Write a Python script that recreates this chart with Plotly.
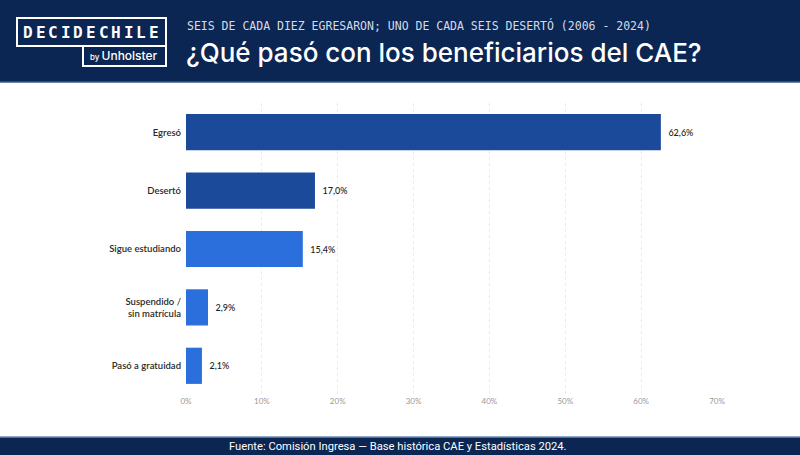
import plotly.graph_objects as go

categories = ["Egresó", "Desertó", "Sigue estudiando", "Suspendido /<br>sin matrícula", "Pasó a gratuidad"]
values = [62.6, 17.0, 15.4, 2.9, 2.1]
bar_colors = ["#1b4a9b", "#1b4a9b", "#2a6fdc", "#2a6fdc", "#2a6fdc"]
tick_vals = [0, 10, 20, 30, 40, 50, 60, 70]
tick_text = ["0%", "10%", "20%", "30%", "40%", "50%", "60%", "70%"]

labels = ["\u2002" + f"{v:.1f}".replace(".", ",") + "%" for v in values]

W, H = 800, 455
NAVY = "#0b2653"

fig = go.Figure()
fig.add_trace(go.Bar(
    x=values, y=categories, orientation="h",
    marker=dict(color=bar_colors, line=dict(width=0)),
    text=labels, textposition="outside", cliponaxis=False,
    textfont=dict(family="Lato", size=9, color="#222222", weight=500),
    width=0.62, hoverinfo="skip",
))

fig.update_layout(
    width=W, height=H,
    margin=dict(l=186, r=83, t=103, b=60),
    paper_bgcolor="white", plot_bgcolor="white",
    showlegend=False,
    xaxis=dict(range=[0, 70], tickvals=tick_vals, ticktext=tick_text,
               showgrid=True, gridcolor="#ebebeb", griddash="dot", gridwidth=1,
               zeroline=False, showline=False,
               tickfont=dict(family="Lato", size=8, color="#999999"), ticks=""),
    yaxis=dict(categoryorder="array", categoryarray=categories[::-1],
               autorange=False, range=[-0.5, 4.5],
               showgrid=False, zeroline=False, showline=False, ticks="",
               ticklabelstandoff=4,
               tickfont=dict(family="Lato", size=9.5, color="#2a2a2a", weight=600)),
)

ph = H - 103 - 60
pw = W - 186 - 83
def px_x(x):
    return (x - 186) / pw
def px_y(y):
    return (H - 60 - y) / ph

shapes = [
    dict(type="rect", xref="paper", yref="paper", x0=px_x(0), x1=px_x(W), y0=px_y(82), y1=px_y(0),
         fillcolor=NAVY, line=dict(width=0), layer="below"),
    dict(type="line", xref="paper", yref="paper", x0=px_x(0), x1=px_x(W), y0=px_y(82), y1=px_y(82),
         line=dict(color="#3b5d8f", width=1.5)),
    dict(type="rect", xref="paper", yref="paper", x0=px_x(0), x1=px_x(W), y0=px_y(H), y1=px_y(437),
         fillcolor=NAVY, line=dict(width=0), layer="below"),
    dict(type="line", xref="paper", yref="paper", x0=px_x(0), x1=px_x(W), y0=px_y(437), y1=px_y(437),
         line=dict(color="#6f8bb5", width=1.5)),
    dict(type="path", xref="paper", yref="paper",
         path=(f"M {px_x(17)},{px_y(18)} L {px_x(166)},{px_y(18)} L {px_x(166)},{px_y(66)} "
               f"L {px_x(83)},{px_y(66)} L {px_x(83)},{px_y(46)} L {px_x(17)},{px_y(46)} Z"),
         line=dict(color="white", width=2)),
    dict(type="line", xref="paper", yref="paper", x0=px_x(83), x1=px_x(166), y0=px_y(46), y1=px_y(46),
         line=dict(color="white", width=2)),
]
fig.update_layout(shapes=shapes)

ann = []
logo = "DECIDECHILE"
for i, ch in enumerate(logo):
    ann.append(dict(xref="paper", yref="paper", x=px_x(28 + i * 12.6), y=px_y(32),
                    text=ch, showarrow=False, xanchor="center", yanchor="middle",
                    font=dict(family="DejaVu Sans Mono", size=16, color="white", weight="bold")))
ann.append(dict(xref="paper", yref="paper", x=px_x(124), y=px_y(56), text="<span style='font-size:8px'>by </span>Unholster",
                showarrow=False, xanchor="center", yanchor="middle",
                font=dict(family="Inter", size=12, color="white", weight=500)))
ann.append(dict(xref="paper", yref="paper", x=px_x(185), y=px_y(25),
                text="SEIS DE CADA DIEZ EGRESARON; UNO DE CADA SEIS DESERTÓ (2006 - 2024)",
                showarrow=False, xanchor="left", yanchor="middle",
                font=dict(family="DejaVu Sans Mono", size=11.5, color="#d5dbe6")))
ann.append(dict(xref="paper", yref="paper", x=px_x(184), y=px_y(53),
                text="¿Qué pasó con los beneficiarios del CAE?",
                showarrow=False, xanchor="left", yanchor="middle",
                font=dict(family="Inter", size=26, color="white", weight=500)))
ann.append(dict(xref="paper", yref="paper", x=px_x(398), y=px_y(446),
                text="Fuente: Comisión Ingresa — Base histórica CAE y Estadísticas 2024.",
                showarrow=False, xanchor="center", yanchor="middle",
                font=dict(family="Roboto", size=11.2, color="white")))
fig.update_layout(annotations=ann)

fig.write_html("out.html")
